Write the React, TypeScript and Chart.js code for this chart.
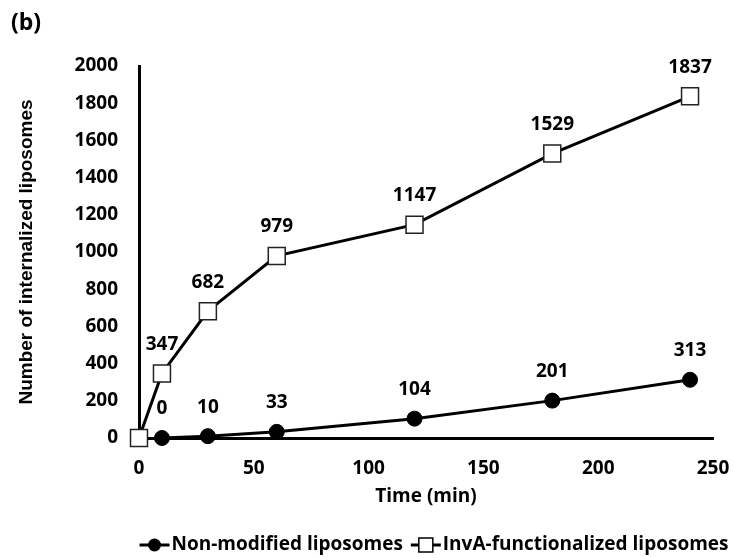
import React, { useEffect, useRef } from "react";
import { Chart, registerables } from "chart.js";

Chart.register(...registerables);

const timeNonModified = [10, 30, 60, 120, 180, 240];
const nonModified = [0, 10, 33, 104, 201, 313];
const timeInvA = [0, 10, 30, 60, 120, 180, 240];
const invA = [0, 347, 682, 979, 1147, 1529, 1837];
const seriesNames = ["Non-modified liposomes", "InvA-functionalized liposomes"];
const xTitle = "Time (min)";
const yTitle = "Number of internalized liposomes";
const panelLabel = "(b)";

const TICK_FONT = "'Open Sans', sans-serif";

const labelsPlugin = {
  id: "pointLabels",
  afterDatasetsDraw(chart: any) {
    const ctx = chart.ctx;
    ctx.save();
    ctx.font = `bold 19px ${TICK_FONT}`;
    ctx.fillStyle = "#000";
    ctx.textAlign = "center";
    ctx.textBaseline = "middle";
    chart.data.datasets.forEach((ds: any, i: number) => {
      const meta = chart.getDatasetMeta(i);
      meta.data.forEach((el: any, j: number) => {
        const p = ds.data[j];
        if (p.x === 0) return;
        ctx.fillText(String(p.y), el.x, el.y - 29);
      });
    });
    ctx.restore();
  },
};

const extrasPlugin = {
  id: "extras",
  afterDraw(chart: any) {
    const ctx = chart.ctx;
    ctx.save();
    // panel label
    ctx.font = `bold 23px ${TICK_FONT}`;
    ctx.fillStyle = "#000";
    ctx.textAlign = "left";
    ctx.textBaseline = "middle";
    ctx.fillText(panelLabel, 11, 23);

    // legend
    ctx.font = `bold 19px ${TICK_FONT}`;
    const sample = 30;
    const gap = 2;
    const itemGap = 8;
    const widths = seriesNames.map((n) => ctx.measureText(n).width);
    const total = widths.reduce((a, b) => a + b, 0) + 2 * (sample + gap) + itemGap;
    let x = 434 - total / 2;
    const y = 545;
    seriesNames.forEach((name, i) => {
      ctx.strokeStyle = "#000";
      ctx.lineWidth = 3;
      ctx.beginPath();
      ctx.moveTo(x, y);
      ctx.lineTo(x + sample, y);
      ctx.stroke();
      const cx = x + sample / 2;
      if (i === 0) {
        ctx.fillStyle = "#000";
        ctx.beginPath();
        ctx.arc(cx, y, 6.5, 0, Math.PI * 2);
        ctx.fill();
      } else {
        ctx.fillStyle = "#fff";
        ctx.fillRect(cx - 7, y - 7, 14, 14);
        ctx.lineWidth = 1.5;
        ctx.strokeRect(cx - 7, y - 7, 14, 14);
      }
      x += sample + gap;
      ctx.fillStyle = "#000";
      ctx.textAlign = "left";
      ctx.textBaseline = "middle";
      ctx.fillText(name, x, y);
      x += widths[i] + itemGap;
    });
    ctx.restore();
  },
};

export default function App() {
  const ref = useRef<HTMLCanvasElement | null>(null);

  useEffect(() => {
    if (!ref.current) return;
    const chart = new Chart(ref.current, {
      type: "line",
      data: {
        datasets: [
          {
            label: seriesNames[0],
            data: timeNonModified.map((t, i) => ({ x: t, y: nonModified[i] })),
            borderColor: "#000",
            backgroundColor: "#000",
            borderWidth: 3,
            pointStyle: "circle",
            pointRadius: 7.5,
            pointBorderWidth: 1,
            pointBackgroundColor: "#000",
            pointBorderColor: "#000",
            tension: 0,
            clip: false,
          },
          {
            label: seriesNames[1],
            data: timeInvA.map((t, i) => ({ x: t, y: invA[i] })),
            borderColor: "#000",
            backgroundColor: "#fff",
            borderWidth: 3,
            pointStyle: "rect",
            pointRadius: 12,
            pointBorderWidth: 1.5,
            pointBackgroundColor: "#fff",
            pointBorderColor: "#222",
            tension: 0,
            clip: false,
          },
        ],
      },
      options: {
        animation: false,
        responsive: false,
        maintainAspectRatio: false,
        layout: { padding: { top: 66, right: 20, bottom: 50, left: 0 } },
        plugins: {
          legend: { display: false },
          tooltip: { enabled: false },
          title: { display: false },
        },
        scales: {
          x: {
            type: "linear",
            min: 0,
            max: 250,
            grid: { display: false, drawTicks: false },
            border: { display: true, color: "#000", width: 3 },
            ticks: {
              stepSize: 50,
              padding: 19,
              color: "#000",
              font: { family: TICK_FONT, size: 19, weight: "bold" },
              maxRotation: 0,
              callback: (v: any) => String(v),
            },
            title: {
              display: true,
              text: xTitle,
              color: "#000",
              font: { family: TICK_FONT, size: 19, weight: "bold" },
              padding: { top: 0, bottom: 0 },
            },
            afterFit(scale: any) {
              scale.height = 70;
              scale.paddingRight = 0;
              scale.paddingLeft = 0;
            },
          },
          y: {
            type: "linear",
            min: 0,
            max: 2000,
            grid: { display: false, drawTicks: false },
            border: { display: true, color: "#000", width: 3 },
            ticks: {
              stepSize: 200,
              padding: 21,
              color: "#000",
              font: { family: TICK_FONT, size: 19, weight: "bold" },
              callback: (v: any) => String(v),
            },
            title: {
              display: true,
              text: yTitle,
              color: "#000",
              font: { family: "'Liberation Sans', Arial, sans-serif", size: 19, weight: "bold" },
              padding: { top: 15, bottom: 0 },
            },
            afterFit(scale: any) {
              scale.width = 139;
              scale.paddingTop = 0;
              scale.paddingBottom = 0;
            },
          },
        },
      },
      plugins: [labelsPlugin, extrasPlugin],
    });
    return () => chart.destroy();
  }, []);

  return (
    <div style={{ position: "absolute", left: 0, top: 0, width: 733, height: 558, background: "#fff" }}>
      <canvas ref={ref} width={733} height={558} style={{ display: "block", width: 733, height: 558 }} />
    </div>
  );
}
